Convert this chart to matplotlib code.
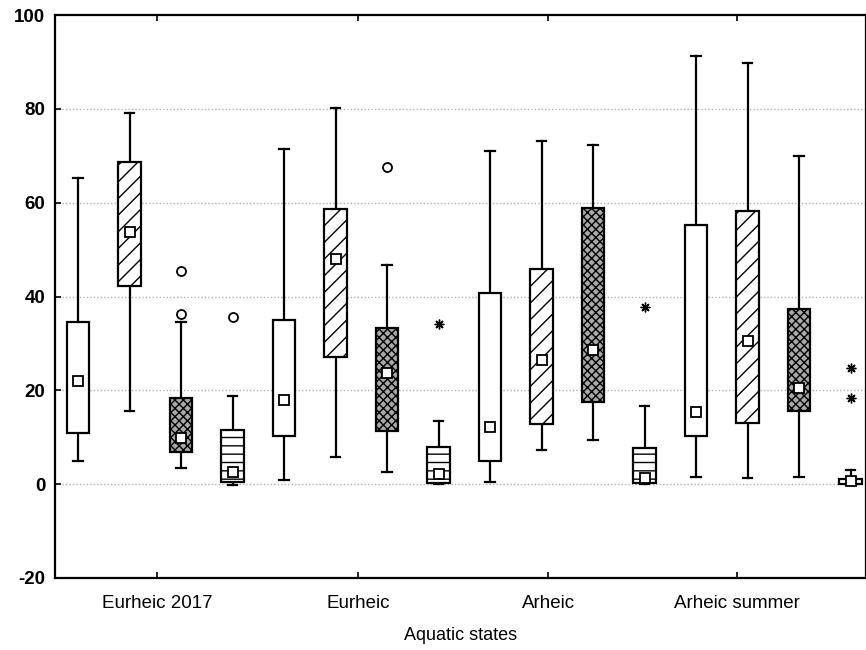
import matplotlib
matplotlib.use("Agg")
import matplotlib.pyplot as plt
import numpy as np

plt.rcParams['font.family'] = ['Liberation Sans', 'DejaVu Sans']
plt.rcParams['hatch.linewidth'] = 1.0
plt.rcParams['axes.unicode_minus'] = False

groups = ["Eurheic 2017", "Eurheic", "Arheic", "Arheic summer"]
# per group: white, diagonal, dotted, horizontal
whisk_lo = [4.9, 15.6, 3.4, -0.2,   0.9, 5.7, 2.6, 0.0,   0.5, 7.2, 9.4, 0.0,   1.6, 1.3, 1.6, 0.0]
q1       = [10.9, 42.2, 6.9, 0.4,   10.2, 27.1, 11.3, 0.2, 4.9, 12.8, 17.5, 0.2,  10.3, 13.0, 15.6, 0.0]
median   = [22.0, 53.7, 9.8, 2.6,   17.9, 48.0, 23.7, 2.1, 12.2, 26.4, 28.6, 1.3,  15.4, 30.6, 20.5, 0.6]
q3       = [34.5, 68.6, 18.3, 11.5, 35.0, 58.6, 33.3, 7.9, 40.7, 45.8, 58.8, 7.7,  55.2, 58.2, 37.3, 1.1]
whisk_hi = [65.2, 79.1, 34.6, 18.8, 71.4, 80.2, 46.7, 13.4, 71.0, 73.1, 72.3, 16.7, 91.3, 89.8, 69.9, 3.0]
outliers = [[], [], [45.4, 36.2], [35.6], [], [], [67.6], [], [], [], [], [], [], [], [], []]
extremes = [[], [], [], [], [], [], [], [34.1], [], [], [], [37.7], [], [], [], [24.8, 18.3]]

styles = [
    dict(facecolor='white', hatch=None),
    dict(facecolor='white', hatch='//'),
    dict(facecolor='#a8a8a8', hatch='xxxx'),
    dict(facecolor='white', hatch='--'),
]

fig = plt.figure(figsize=(8.66, 6.5), dpi=100)
ax = fig.add_axes([55/866, 72/650, (866-55)/866, (578-15)/650])

stats = []
for i in range(16):
    stats.append(dict(med=median[i], q1=q1[i], q3=q3[i], whislo=whisk_lo[i], whishi=whisk_hi[i], fliers=[]))
positions = np.arange(16)
bp = ax.bxp(stats, positions=positions, widths=0.43, patch_artist=True, showcaps=True,
            capwidths=0.18, showfliers=False,
            boxprops=dict(linewidth=1.6, edgecolor='black'),
            whiskerprops=dict(linewidth=1.6, color='black'),
            capprops=dict(linewidth=1.6, color='black'),
            medianprops=dict(linewidth=0))
for i, b in enumerate(bp['boxes']):
    st = styles[i % 4]
    b.set_facecolor(st['facecolor'])
    if st['hatch']:
        b.set_hatch(st['hatch'])
    b.set_zorder(3)
for i in range(16):
    ax.plot([i], [median[i]], marker='s', ms=6.5, mfc='white', mec='black', mew=1.3, zorder=5, ls='none')
    for v in outliers[i]:
        ax.plot([i], [v], marker='o', ms=6.5, mfc='white', mec='black', mew=1.3, zorder=5, ls='none')
    for v in extremes[i]:
        ax.plot([i], [v], marker=(8, 2, 0), ms=7, mec='black', mew=1.0, zorder=5, ls='none')

ax.set_xlim(-0.447, 15.3)
ax.set_ylim(-20, 100)
ax.set_yticks([-20, 0, 20, 40, 60, 80, 100])
for y in [0, 20, 40, 60, 80]:
    ax.axhline(y, color='#b0b0b0', lw=1.0, ls=(0, (1, 1.5)), zorder=1)

tick_pos = [1.53, 5.44, 9.13, 12.8]
ax.set_xticks(tick_pos)
ax.set_xticklabels(groups, fontsize=13.5)
ax.tick_params(axis='x', direction='in', length=4, width=1.2, top=True, pad=12)
ax.tick_params(axis='y', direction='in', length=4, width=1.2, pad=7)
for lab in ax.get_yticklabels():
    lab.set_fontsize(13.5)
    lab.set_fontweight('bold')
for s in ax.spines.values():
    s.set_linewidth(1.6)
ax.set_xlabel("Aquatic states", fontsize=13, labelpad=11)

fig.savefig("out.png", dpi=100)
